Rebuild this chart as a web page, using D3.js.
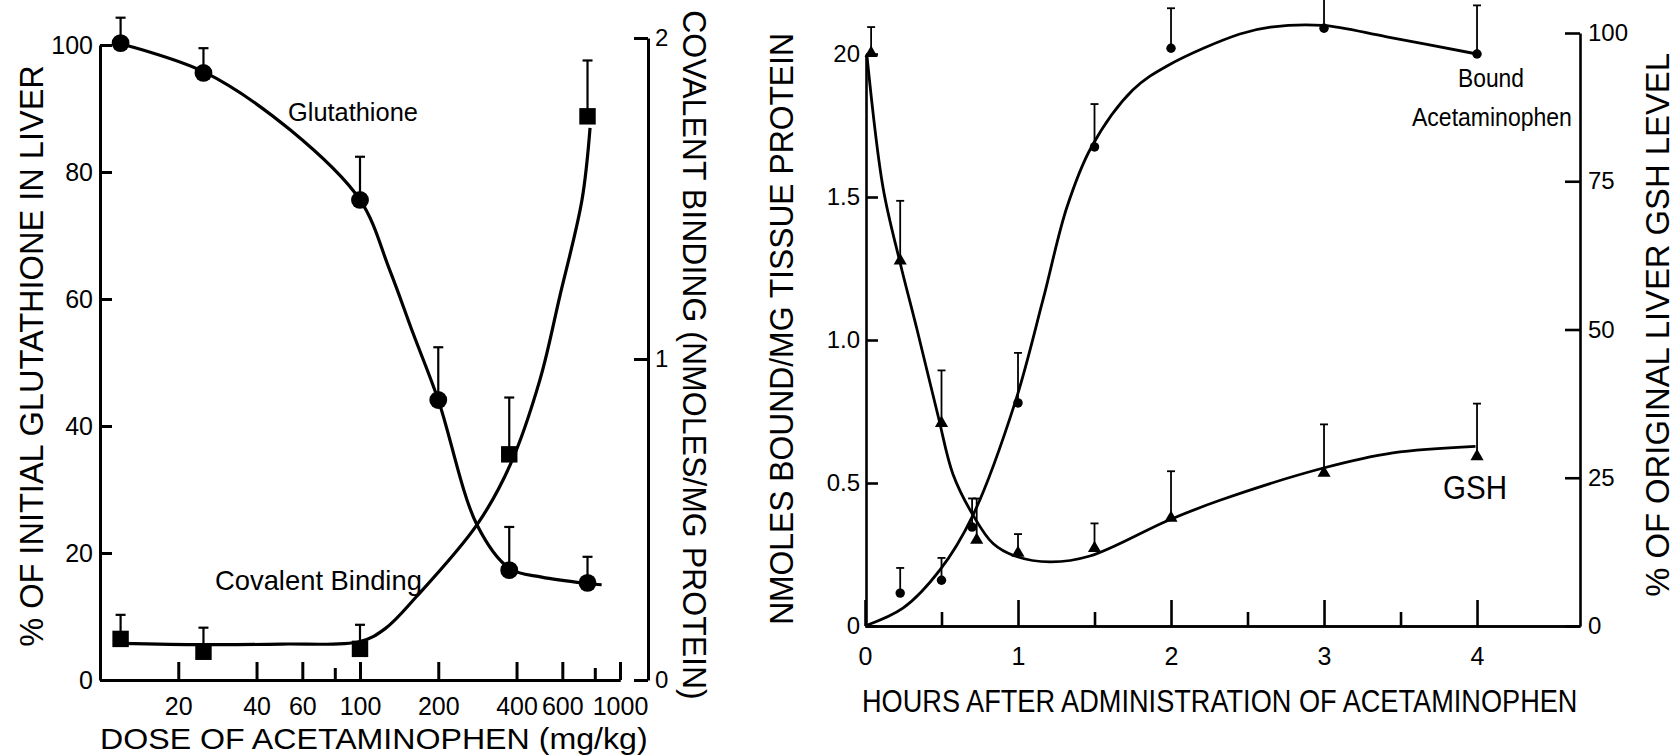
<!DOCTYPE html>
<html>
<head>
<meta charset="utf-8">
<script src="https://cdn.jsdelivr.net/npm/d3@7"></script>
<style>
  body { margin: 0; background: #fff; }
  svg { display: block; font-family: "Liberation Sans", Arial, Helvetica, sans-serif; }
</style>
</head>
<body>
<div id="chart"></div>
<script>
// step 1. DATA
/* left panel: dose of acetaminophen (mg/kg) */
const doses = [12, 25, 100, 200, 375, 750];
const gshPct = [100.3, 95.6, 75.6, 44.1, 17.3, 15.3];
const gshPctErr = [4.0, 3.9, 6.8, 8.3, 6.8, 4.1];
const bindDoses = [12, 25, 100, 375, 750];
const binding = [0.128, 0.088, 0.097, 0.703, 1.756];
const bindingErr = [0.075, 0.075, 0.075, 0.177, 0.174];
// fitted curves as drawn in the figure
const gshCurveDose = [12, 25, 54, 100, 130, 160, 200, 282, 375, 500, 750, 850];
const gshCurvePct = [100.2, 95.8, 86.6, 75.6, 64.6, 54.6, 44.1, 24.4, 17.6, 16.2, 15.2, 15.0];
const bindCurveDose = [12, 25, 50, 100, 125, 165, 282, 378, 492, 587, 714, 767];
const bindCurveVal = [0.114, 0.11, 0.112, 0.12, 0.16, 0.26, 0.484, 0.67, 0.935, 1.196, 1.495, 1.72];
const doseTicks = [20, 40, 60, 100, 200, 400, 600, 1000];
const doseMinorTicks = [80, 800];
const pctTicks = [0, 20, 40, 60, 80, 100];
const bindTicks = [0, 1, 2];

/* right panel: hours after administration */
const boundHours = [0.23, 0.5, 0.7, 1, 1.5, 2, 3, 4];
const bound = [0.115, 0.16, 0.346, 0.78, 1.675, 2.02, 2.09, 2.0];
const boundErr = [0.088, 0.078, 0.10, 0.175, 0.15, 0.14, 0.2, 0.17];
const gshHours = [0.04, 0.23, 0.5, 0.73, 1, 1.5, 2, 3, 4];
const gshLevel = [96.6, 61.6, 34.2, 14.5, 12.3, 13.1, 18.2, 25.8, 28.6];
const gshLevelErr = [4.4, 10.1, 8.9, 7.0, 3.2, 4.2, 7.9, 8.2, 8.9];
const boundCurveHours = [0, 0.25, 0.49, 0.706, 0.98, 1.163, 1.32, 1.48, 1.75, 1.98, 2.45, 2.65, 2.99, 3.41, 4.0];
const boundCurveVal = [0, 0.063, 0.196, 0.388, 0.78, 1.14, 1.465, 1.675, 1.874, 1.96, 2.07, 2.094, 2.10, 2.06, 2.0];
const gshCurveHours = [0.013, 0.118, 0.229, 0.34, 0.477, 0.575, 0.706, 0.837, 0.98, 1.21, 1.47, 1.98, 2.32, 2.99, 3.45, 3.99];
const gshCurveLevel = [96.1, 73.9, 61.3, 50, 35.5, 25.6, 18.7, 13.9, 11.8, 10.8, 11.8, 17.8, 21.2, 26.6, 29.2, 30.3];
const hourTicks = [0, 1, 2, 3, 4];
const hourMinorTicks = [0.5, 1.5, 2.5, 3.5];
const nmolTicks = [0, 0.5, 1.0, 1.5, 2.0];
const nmolLabels = ["0", "0.5", "1.0", "1.5", "20"];
const levelTicks = [0, 25, 50, 75, 100];

const width = 1677, height = 756;

const svg = d3.select("#chart").append("svg")
  .attr("width", width)
  .attr("height", height);

svg.append("rect").attr("width", width).attr("height", height).attr("fill", "#fff");

// step 2. SCALES
const xDose = d3.scaleLog().domain([10, 1000]).range([100, 620]);
const yPct = d3.scaleLinear().domain([0, 100]).range([680, 45]);
const yBind = d3.scaleLinear().domain([0, 2]).range([680, 38]);

const xHour = d3.scaleLinear().domain([0, 4.673]).range([865, 1580]);
const yNmol = d3.scaleLinear().domain([0, 2]).range([626, 54]);
const yLevel = d3.scaleLinear().domain([0, 100]).range([626, 33]);

function styleAxis(g, size, sw) {
  g.attr("font-size", size).attr("font-family", null);
  g.selectAll("path, line").attr("stroke", "#000").attr("stroke-width", sw);
  g.selectAll("text").attr("fill", "#000");
}

// step 3. AXES - left panel
svg.append("g").attr("transform", "translate(0,680)")
  .call(d3.axisBottom(xDose).tickValues(doseTicks).tickFormat(d3.format("d"))
    .tickSize(-18).tickSizeOuter(0).tickPadding(17))
  .call(g => styleAxis(g, 25, 3));
svg.append("g").attr("transform", "translate(0,680)")
  .call(d3.axisBottom(xDose).tickValues(doseMinorTicks).tickFormat("")
    .tickSize(-12).tickSizeOuter(0))
  .call(g => styleAxis(g, 25, 3));
svg.append("g").attr("transform", "translate(100,0)")
  .call(d3.axisLeft(yPct).tickValues(pctTicks).tickSize(-12).tickSizeOuter(0).tickPadding(7))
  .call(g => styleAxis(g, 25, 3));
svg.append("g").attr("transform", "translate(648,0)")
  .call(d3.axisRight(yBind).tickValues(bindTicks).tickFormat(d3.format("d"))
    .tickSize(-14).tickSizeOuter(0).tickPadding(7))
  .call(g => styleAxis(g, 24, 3));

// AXES - right panel
svg.append("g").attr("transform", "translate(0,626)")
  .call(d3.axisBottom(xHour).tickValues(hourTicks).tickFormat(d3.format("d"))
    .tickSize(-26).tickSizeOuter(0).tickPadding(21))
  .call(g => styleAxis(g, 25, 2.6));
svg.append("g").attr("transform", "translate(0,626)")
  .call(d3.axisBottom(xHour).tickValues(hourMinorTicks).tickFormat("")
    .tickSize(-14).tickSizeOuter(0))
  .call(g => styleAxis(g, 25, 2.6));
svg.append("g").attr("transform", "translate(866,0)")
  .call(d3.axisLeft(yNmol).tickValues(nmolTicks).tickFormat((d, i) => nmolLabels[i])
    .tickSize(-12).tickSizeOuter(0).tickPadding(6))
  .call(g => styleAxis(g, 24, 2.6));
svg.append("g").attr("transform", "translate(1580,0)")
  .call(d3.axisRight(yLevel).tickValues(levelTicks).tickSize(-15).tickSizeOuter(0).tickPadding(8))
  .call(g => styleAxis(g, 24, 2.6));

// step 4. CURVES
const zip = (a, b) => a.map((v, i) => [v, b[i]]);
const smooth = d3.curveCatmullRom.alpha(0.5);

svg.append("path")
  .datum(zip(gshCurveDose, gshCurvePct))
  .attr("d", d3.line().x(d => xDose(d[0])).y(d => yPct(d[1])).curve(smooth))
  .attr("fill", "none").attr("stroke", "#000").attr("stroke-width", 3.2);

svg.append("path")
  .datum(zip(bindCurveDose, bindCurveVal))
  .attr("d", d3.line().x(d => xDose(d[0])).y(d => yBind(d[1])).curve(smooth))
  .attr("fill", "none").attr("stroke", "#000").attr("stroke-width", 3.2);

svg.append("path")
  .datum(zip(boundCurveHours, boundCurveVal))
  .attr("d", d3.line().x(d => xHour(d[0])).y(d => yNmol(d[1])).curve(smooth))
  .attr("fill", "none").attr("stroke", "#000").attr("stroke-width", 2.8);

svg.append("path")
  .datum(zip(gshCurveHours, gshCurveLevel))
  .attr("d", d3.line().x(d => xHour(d[0])).y(d => yLevel(d[1])).curve(smooth))
  .attr("fill", "none").attr("stroke", "#000").attr("stroke-width", 2.8);

// step 5. ERROR BARS + MARKERS
function errorBars(xs, ys, es, xS, yS, cap, sw) {
  const g = svg.append("g").attr("stroke", "#000").attr("stroke-width", sw);
  g.selectAll("line.v").data(xs).join("line")
    .attr("x1", d => xS(d)).attr("x2", d => xS(d))
    .attr("y1", (d, i) => yS(ys[i])).attr("y2", (d, i) => yS(ys[i] + es[i]));
  g.selectAll("line.c").data(xs).join("line")
    .attr("x1", d => xS(d) - cap / 2).attr("x2", d => xS(d) + cap / 2)
    .attr("y1", (d, i) => yS(ys[i] + es[i])).attr("y2", (d, i) => yS(ys[i] + es[i]));
}
function markers(xs, ys, xS, yS, type, size) {
  svg.append("g").selectAll("path").data(xs).join("path")
    .attr("transform", (d, i) => `translate(${xS(d)},${yS(ys[i])})`)
    .attr("d", d3.symbol().type(type).size(size))
    .attr("fill", "#000");
}

errorBars(doses, gshPct, gshPctErr, xDose, yPct, 10, 2.2);
errorBars(bindDoses, binding, bindingErr, xDose, yBind, 10, 2.2);
markers(doses, gshPct, xDose, yPct, d3.symbolCircle, 250);
markers(bindDoses, binding, xDose, yBind, d3.symbolSquare, 270);

errorBars(boundHours, bound, boundErr, xHour, yNmol, 8, 1.8);
errorBars(gshHours, gshLevel, gshLevelErr, xHour, yLevel, 8, 1.8);
markers(boundHours, bound, xHour, yNmol, d3.symbolCircle, 70);
markers(gshHours, gshLevel, xHour, yLevel, d3.symbolTriangle, 75);

// step 6. TEXT - width fitted with a horizontal scale (the original type is condensed)
function label(txt, x, y, size, len, rot, anchor) {
  const t = svg.append("text")
    .attr("font-size", size)
    .attr("text-anchor", anchor || "start")
    .attr("fill", "#000")
    .text(txt);
  const sx = len / t.node().getComputedTextLength();
  t.attr("transform", `translate(${x},${y})` + (rot ? ` rotate(${rot})` : "") + ` scale(${sx},1)`);
  return t;
}

label("% OF INITIAL GLUTATHIONE IN LIVER", 43, 356, 33, 582, -90, "middle");
label("DOSE OF ACETAMINOPHEN (mg/kg)", 100, 749, 30, 548);
label("COVALENT BINDING (NMOLES/MG PROTEIN)", 683, 355, 33, 690, 90, "middle");
label("Glutathione", 288, 121, 26, 130);
label("Covalent Binding", 215, 590, 27, 207);

label("NMOLES BOUND/MG TISSUE PROTEIN", 793, 329, 34, 592, -90, "middle");
label("% OF ORIGINAL LIVER GSH LEVEL", 1669, 325, 33, 544, -90, "middle");
label("HOURS AFTER ADMINISTRATION OF ACETAMINOPHEN", 862, 712, 31, 716);
label("Bound", 1458, 87, 25, 66);
label("Acetaminophen", 1412, 126, 25, 160);
label("GSH", 1443, 499, 33, 64);
</script>
</body>
</html>
